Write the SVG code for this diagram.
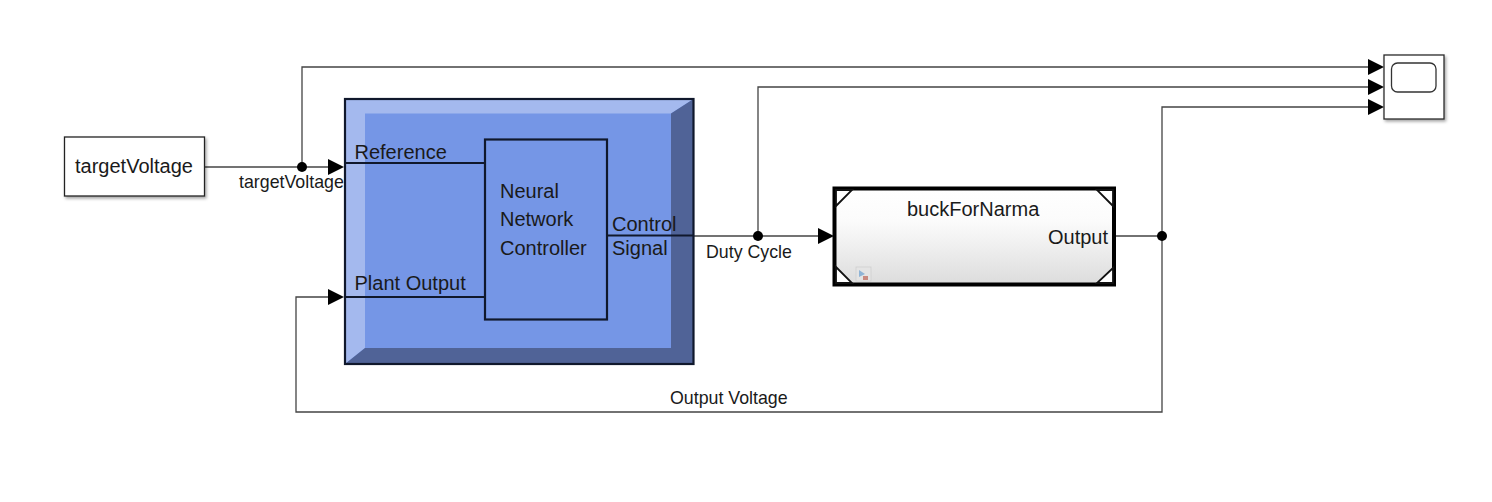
<svg xmlns="http://www.w3.org/2000/svg" width="1492" height="502" viewBox="0 0 1492 502">
<style>
text{font-family:"Liberation Sans",Arial,sans-serif;fill:#1a1a1a}
.t20{font-size:20px}.t16{font-size:17.800px}
.wire{fill:none;stroke:#444;stroke-width:1.300}
.inner{fill:none;stroke:#10182c;stroke-width:2.200}
.corner{fill:#fff;stroke:#111;stroke-width:1.800}
.dot{fill:#000}
.head{fill:#000}
</style>
<defs>
<linearGradient id="g" x1="0" y1="0" x2="0" y2="1"><stop offset="0" stop-color="#fff"/><stop offset="0.35" stop-color="#fbfbfb"/><stop offset="1" stop-color="#dcdcdc"/></linearGradient>
<filter id="s" x="-10%" y="-10%" width="120%" height="125%"><feDropShadow dx="1.500" dy="2" stdDeviation="1.500" flood-color="#000" flood-opacity="0.35"/></filter>
</defs>
<rect width="1492" height="502" fill="#fff"/>
<g id="connectors">
<path class="wire" d="M204 167H330"/>
<path class="wire" d="M302 167V67H1370"/>
<path class="wire" d="M758 236V87H1370"/>
<path class="wire" d="M1162 236V107H1370"/>
<path class="wire" d="M693 236H820"/>
<path class="wire" d="M1114 236H1162V412H296V297H330"/>
<circle class="dot" cx="302" cy="167" r="5"/>
<circle class="dot" cx="758" cy="236" r="5"/>
<circle class="dot" cx="1162" cy="236" r="5"/>
<path class="head" d="M328 159L344 167L328 175Z"/>
<path class="head" d="M328 289L344 297L328 305Z"/>
<path class="head" d="M818 228L834 236L818 244Z"/>
<path class="head" d="M1368 59L1384 67L1368 75Z"/>
<path class="head" d="M1368 79L1384 87L1368 95Z"/>
<path class="head" d="M1368 99L1384 107L1368 115Z"/>
<text class="t16" x="239" y="188">targetVoltage</text>
<text class="t16" x="706" y="257.500">Duty Cycle</text>
<text class="t16" x="670" y="404">Output Voltage</text>
</g>
<g id="targetVoltage">
<rect x="64.500" y="137" width="140" height="59" fill="#fff" stroke="#222" stroke-width="1.300" filter="url(#s)"/>
<text class="t20" x="75" y="172.500">targetVoltage</text>
</g>
<g id="controller">
<rect x="345" y="99" width="348.500" height="265" fill="#7596e6"/>
<path d="M345 99H693.500L671 113.500H365V348L345 364Z" fill="#a4b9ee"/>
<path d="M693.500 99V364H345L365 348H671V113.500Z" fill="#506397"/>
<rect x="345" y="99" width="348.500" height="265" fill="none" stroke="#10182c" stroke-width="2.200"/>
<rect x="485" y="139.500" width="122" height="180" class="inner" style="fill:#7596e6"/>
<path class="inner" d="M345 163H485M345 297H485"/>
<path d="M607 235.500H693.500" stroke="#10182c" stroke-width="1.800"/>
<text class="t20" x="354.500" y="158.500">Reference</text>
<text class="t20" x="354.500" y="289.500">Plant Output</text>
<text class="t20" x="500" y="197.500">Neural</text>
<text class="t20" x="500" y="225.500">Network</text>
<text class="t20" x="500" y="255">Controller</text>
<text class="t20" x="612" y="231">Control</text>
<text class="t20" x="612" y="255">Signal</text>
</g>
<g id="buckForNarma">
<rect x="834.500" y="188.500" width="279.500" height="96" fill="url(#g)" stroke="#000" stroke-width="4"/>
<path class="corner" d="M836 206L852 190H836Z"/>
<path class="corner" d="M1113 206L1097 190H1113Z"/>
<path class="corner" d="M836 267L852 283H836Z"/>
<path class="corner" d="M1113 268L1097 283H1113Z"/>
<rect x="856" y="267" width="15" height="14" fill="#e4e4e4" stroke="#cfcfcf" stroke-width="0.800"/>
<path d="M859 270L865 274L859 277Z" fill="#8fb4d6"/>
<rect x="863" y="276" width="5" height="4" fill="#c98a80"/>
<text class="t20" x="907" y="215.500">buckForNarma</text>
<text class="t20" x="1048" y="243.500">Output</text>
</g>
<g id="scope">
<rect x="1384" y="55" width="60" height="64" fill="#fff" stroke="#2a2a2a" stroke-width="1.300" filter="url(#s)"/>
<rect x="1391.500" y="63" width="44.500" height="29" rx="6" fill="#fff" stroke="#333" stroke-width="1.300"/>
</g>
</svg>
